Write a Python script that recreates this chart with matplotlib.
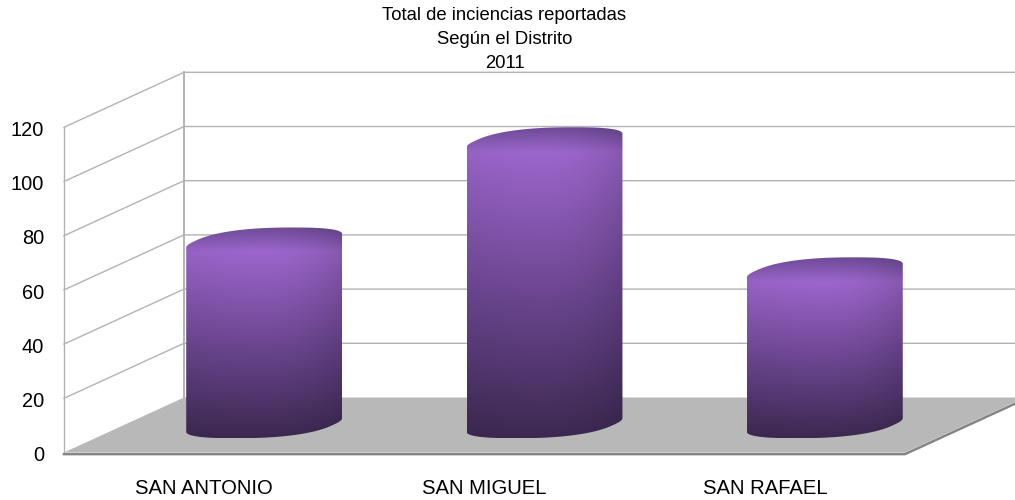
"""Total de incidencias por distrito, cilindros en pseudo 3D."""

import matplotlib

matplotlib.use("Agg")
import matplotlib.pyplot as plt
import numpy as np
from matplotlib.colors import LinearSegmentedColormap
from matplotlib.patches import Polygon

categories = ["SAN ANTONIO", "SAN MIGUEL", "SAN RAFAEL"]
incidents = [68, 105, 57]
y_ticks = [0, 20, 40, 60, 80, 100, 120]
title_lines = ["Total de inciencias reportadas", "Según el Distrito", "2011"]

WIDTH, HEIGHT, DPI = 1015, 500, 100
PX_X = 280.33  # pixels per category
PX_Y = 2.71  # pixels per unit of value
LEFT, BASE = 64, 452.5  # pixel position of category 0, value 0
DEPTH_X = 120 / PX_X  # back wall shift, in data units
DEPTH_Y = 55 / PX_Y
GRID = "#b3b3b3"

plt.rcParams["font.family"] = ["Liberation Sans", "DejaVu Sans"]

bar_cmap = LinearSegmentedColormap.from_list(
    "bar",
    [(0, "#6e4b97"), (0.2, "#9c66cc"), (0.6, "#6c4691"), (1, "#3c2951")],
)


def project(x, value, depth=0.0):
    """Category, value and depth to the flat data coordinates of the axes."""
    return x + depth * DEPTH_X, value + depth * DEPTH_Y


def draw_cylinder(ax, x, value):
    angle = np.linspace(0, 2 * np.pi, 360, endpoint=False)
    # slightly squared ring, the original shoulders are rounder than an ellipse
    cos_a = np.sign(np.cos(angle)) * np.abs(np.cos(angle)) ** 0.8
    sin_a = np.sign(np.sin(angle)) * np.abs(np.sin(angle)) ** 0.8
    ring_x = x + 0.245 * cos_a
    ring_d = 0.5 + 0.24 * sin_a
    top = np.column_stack(project(ring_x, value, ring_d))
    bottom = np.column_stack(project(ring_x, 0, ring_d))

    # silhouette: over the top ring from right to left, back under the bottom ring
    right = np.argmax(top[:, 0])
    left = np.argmin(top[:, 0])
    upper = np.roll(top, -right, axis=0)[: (left - right) % 360 + 1]
    lower = np.roll(bottom, -left, axis=0)[: (right - left) % 360 + 1]
    outline = np.vstack([upper, lower])

    x0, x1 = outline[:, 0].min(), outline[:, 0].max()
    y0, y1 = outline[:, 1].min(), outline[:, 1].max()
    rows, cols = 256, 120
    from_top = np.linspace(0, (y1 - y0) * PX_Y, rows)
    shade = np.interp(from_top, [0, 24, from_top[-1]], [0, 0.2, 1])[:, None] * np.ones((1, cols))
    rgba = bar_cmap(shade)
    side = np.linspace(-1, 1, cols)
    rgba[:, :, :3] *= (1 - 0.14 * np.clip(side, 0, 1) ** 2 - 0.04 * np.clip(-side, 0, 1) ** 2)[None, :, None]
    img = ax.imshow(rgba, extent=(x0, x1, y0, y1), origin="upper", aspect="auto", zorder=4)
    img.set_clip_path(Polygon(outline, closed=True, transform=ax.transData))


fig = plt.figure(figsize=(WIDTH / DPI, HEIGHT / DPI), dpi=DPI)
ax = fig.add_axes([0, 0, 1, 1])
ax.axis("off")
xlim = (-LEFT / PX_X, (WIDTH - LEFT) / PX_X)
ylim = ((BASE - HEIGHT) / PX_Y, BASE / PX_Y)

# walls and grid
for tick in y_ticks[1:]:
    xs, ys = project(np.array([0, 0, 3]), tick, np.array([0, 1, 1]))
    ax.plot(xs, ys, color=GRID, lw=1.0, zorder=1)
ax.plot(*project(np.array([0, 0]), np.array([0, y_ticks[-1]]), 0), color=GRID, lw=1.0, zorder=1)
ax.plot(*project(np.array([0, 0]), np.array([0, y_ticks[-1]]), 1), color=GRID, lw=1.4, zorder=1)

# floor
corners = [project(0, 0, 0), project(3, 0, 0), project(3, 0, 1), project(0, 0, 1)]
ax.add_patch(Polygon(corners, closed=True, facecolor="#b8b8b8", edgecolor="none", zorder=2))
edge_x, edge_y = project(np.array([0, 3, 3]), -0.6, np.array([0, 0, 1]))
ax.plot(edge_x, edge_y, color="#858585", lw=1.8, zorder=3, solid_joinstyle="miter")

for i, value in enumerate(incidents):
    draw_cylinder(ax, i + 0.5, value)
    ax.text(i + 0.5, -13.1, categories[i], ha="center", va="center", fontsize=14.6, color="black")

for tick in y_ticks:
    ax.text(-20 / PX_X, tick - 1.2, str(tick), ha="right", va="center", fontsize=14.4, color="black")

title_px = [16, 40, 63.5]
for line, py in zip(title_lines, title_px):
    ax.text(440.5 / PX_X, (BASE - py) / PX_Y, line, ha="center", va="center", fontsize=13.3, color="black")

ax.set_xlim(xlim)
ax.set_ylim(ylim)
fig.savefig("out.png", dpi=DPI)
plt.close(fig)
